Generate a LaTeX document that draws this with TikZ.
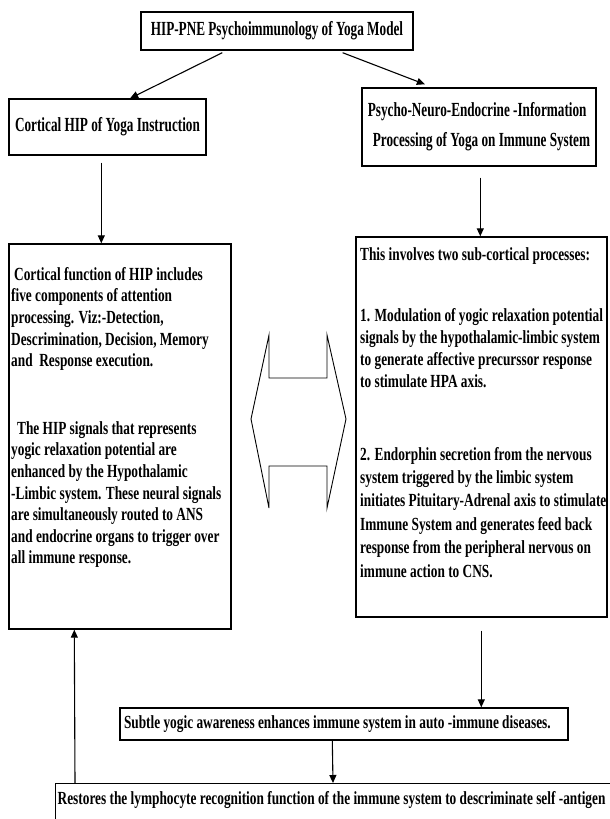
\documentclass[tikz,border=0pt]{standalone}
\usepackage{fontspec}
\setmainfont{Liberation Serif}
\newfontfamily\hdfont{Liberation Serif}[FakeStretch=0.66]
\newfontfamily\bdfont{Liberation Serif}[FakeStretch=0.72]
\usetikzlibrary{arrows.meta,calc}
\begin{document}
\begin{tikzpicture}[x=1pt,y=-1pt,
  hbox/.style={draw, line width=1.4pt, inner sep=0pt, font=\hdfont\bfseries\fontsize{20}{30}\selectfont},
  bbox/.style={draw, line width=1.4pt, inner sep=0pt, font=\bdfont\bfseries\fontsize{18.5}{21.6}\selectfont},
  ltxt/.style={inner sep=0pt, align=left, anchor=north west, font=\bdfont\bfseries\fontsize{18.5}{21.6}\selectfont},
  rtxt/.style={inner sep=0pt, align=left, anchor=north west, font=\bdfont\bfseries\fontsize{18.5}{22}\selectfont},
  conn/.style={line width=1.1pt, -{Triangle[length=8pt,width=7pt]}},
  shapeline/.style={line width=0.9pt}
]
\useasboundingbox (0,0) rectangle (610,819);
\fill[white] (0,0) rectangle (610,819);

\node[hbox, minimum width=272pt, minimum height=38pt] (top) at (277,31) {HIP-PNE Psychoimmunology of Yoga Model};
\node[hbox, minimum width=197pt, minimum height=56pt] (cort) at (107.5,127) {Cortical HIP of Yoga Instruction};
\node[hbox, minimum width=234pt, minimum height=78pt, align=left] (pne) at (479,127) {Psycho-Neuro-Endocrine -Information\\\hspace{5pt}Processing of Yoga on Immune System};

\node[bbox, minimum width=222pt, minimum height=385pt] (lb) at (120,436.5) {};
\node[ltxt] (lbtxt) at (11,267) {\hspace{3pt}Cortical function of HIP includes\\
five components of attention\\
processing. Viz:-Detection,\\
Descrimination, Decision, Memory\\
and\ \ Response execution.\\[46pt]
\hspace{6pt}The HIP signals that represents\\
yogic relaxation potential are\\
enhanced by the Hypothalamic\\
-Limbic system. These neural signals\\
are simultaneously routed to ANS\\
and endocrine organs to trigger over\\
all immune response.};

\node[bbox, minimum width=251pt, minimum height=380pt] (rb) at (481.5,427) {};
\node[rtxt] (rbtxt) at (360,247) {This involves two sub-cortical processes:\\[39pt]
1. Modulation of yogic relaxation potential\\
signals by the hypothalamic-limbic system\\
to generate affective precurssor response\\
to stimulate HPA axis.\\[51pt]
2. Endorphin secretion from the nervous\\[1.4pt]
system triggered by the limbic system\\[1.4pt]
initiates Pituitary-Adrenal axis to stimulate\\[1.4pt]
Immune System and generates feed back\\[1.4pt]
response from the peripheral nervous on\\[1.4pt]
immune action to CNS.};

\node[bbox, inner xsep=4pt, minimum height=32pt] (sub) at (344,724) {\makebox[440pt][l]{Subtle yogic awareness enhances immune system in auto -immune diseases.}};
\node[bbox, anchor=north west, inner xsep=2pt, inner ysep=3pt, text height=18pt, text depth=40pt] (rest) at (55,783) {\makebox[570pt][l]{Restores the lymphocyte recognition function of the immune system to descriminate self -antigen}};

% double arrow shape
\draw[shapeline] (251,419) -- (269,335) -- (269,378) -- (327,378) -- (327,335) -- (346,419) -- (327,508) -- (327,466) -- (269,466) -- (269,508) -- cycle;

% connectors
\draw[conn] ($(top.south west)!0.30!(top.south east)+(0,2)$) -- ($(cort.north west)!0.614!(cort.north east)$);
\draw[conn] ($(top.south west)!0.74!(top.south east)+(0,2)$) -- ($(pne.north west)!0.27!(pne.north east)+(0,-3)$);
\draw[conn] ($(cort.south west)+(93,7)$) -- ($(lb.north west)+(93,0)$);
\draw[conn] ($(pne.south west)+(119,11)$) -- ($(rb.north west)+(125,0)$);
\draw[conn] ($(rb.south west)+(126,13)$) -- ($(sub.north west)+(362,0)$);
\draw[conn] ($(sub.south west)+(213,0)$) -- ($(rest.north west)+(278,0)$);
\draw[conn] ($(rest.north west)+(20,0)$) -- ($(lb.south west)+(66,0)$);
\end{tikzpicture}
\end{document}
